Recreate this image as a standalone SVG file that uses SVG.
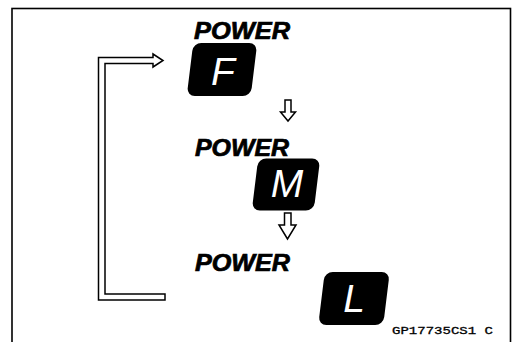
<svg xmlns="http://www.w3.org/2000/svg" width="513" height="342" viewBox="0 0 513 342">
<style>
.pw{font-family:"Liberation Sans",Arial,sans-serif;font-weight:bold;font-style:italic;font-size:23px;fill:#000;stroke:#000;stroke-width:0.7}
.box{fill:#000}
.lt{font-family:"Liberation Sans",Arial,sans-serif;font-style:italic;font-size:39px;fill:#fff;text-anchor:middle}
.arr{fill:#fff;stroke:#000;stroke-width:1.5;stroke-linejoin:miter}
.code{font-family:"Liberation Mono","Courier New",monospace;font-size:11px;fill:#000;stroke:#000;stroke-width:0.3}
</style>
<rect x="12" y="8.5" width="498.5" height="345" fill="#fff" stroke="#000" stroke-width="1.6"/>
<g id="connectors">
<path class="arr" d="M165,300 H98.5 V57.5 H153 V54 L163,60.5 L153,67 V63.5 H105 V294 H165 Z"/>
<path class="arr" d="M285,100 H291 V112 H295.5 L288,121 L280.5,112 H285 Z"/>
<path class="arr" d="M284.5,213 H291 V225 H296 L287.5,239 L279,225 H284.5 Z"/>
</g>
<g id="node-f">
<text class="pw" x="194" y="38.5" textLength="96" lengthAdjust="spacingAndGlyphs">POWER</text>
<rect class="box" x="-32" y="-26.5" width="64" height="53" rx="8" transform="translate(222,69.5) skewX(-7)"/>
<text class="lt" x="223" y="85">F</text>
</g>
<g id="node-m">
<text class="pw" x="195" y="156" textLength="94" lengthAdjust="spacingAndGlyphs">POWER</text>
<rect class="box" x="-31" y="-26" width="62" height="52" rx="8" transform="translate(286,184.5) skewX(-7)"/>
<text class="lt" x="287" y="197">M</text>
</g>
<g id="node-l">
<text class="pw" x="195" y="271" textLength="95" lengthAdjust="spacingAndGlyphs">POWER</text>
<rect class="box" x="-32.5" y="-26.5" width="65" height="53" rx="8" transform="translate(354,298.5) skewX(-7)"/>
<text class="lt" x="354" y="312">L</text>
</g>
<text class="code" x="392" y="334" textLength="101" lengthAdjust="spacingAndGlyphs">GP17735CS1  C</text>
</svg>
